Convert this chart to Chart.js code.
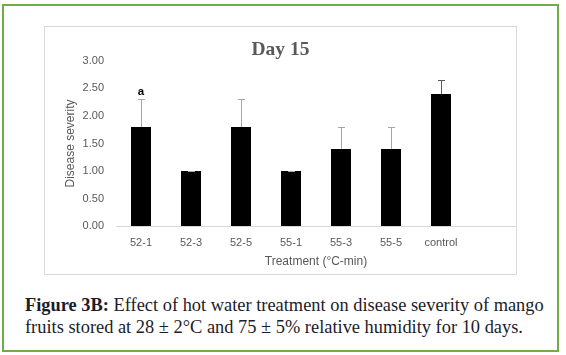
<!DOCTYPE html>
<html><head><meta charset="utf-8">
<script src="https://cdn.jsdelivr.net/npm/chart.js@4"></script>
<style>
html,body{margin:0;padding:0;background:#fff;width:566px;height:355px;overflow:hidden}
#frame{position:absolute;left:2px;top:4px;width:557px;height:348px;border:2px solid #70ad47;box-sizing:border-box}
#box{position:absolute;left:44px;top:26px;width:473px;height:249px;border:1px solid #d9d9d9;box-sizing:border-box}
#wrap{position:absolute;left:45px;top:27px;width:471px;height:247px}
#cap{position:absolute;left:25px;top:295px;font-family:"Liberation Serif",serif;font-size:17.5px;line-height:21.7px;color:#1c1c2a;white-space:nowrap}
#cap b{font-weight:bold}
</style></head>
<body>
<div id="frame"></div>
<div id="box"></div>
<div id="wrap"><canvas id="c" width="471" height="247"></canvas></div>
<div id="cap"><span id="l1"><b>Figure 3B:</b> Effect of hot water treatment on disease severity of mango</span><br><span>fruits stored at 28 ± 2°C and 75 ± 5% relative humidity for 10 days.</span></div>
<script>
const categories = ['52-1','52-3','52-5','55-1','55-3','55-5','control'];
const severity   = [1.8, 1.0, 1.8, 1.0, 1.4, 1.4, 2.4];
const errorUp    = [0.5, 0.0, 0.5, 0.0, 0.4, 0.4, 0.25];
const letters    = ['a','','','','','',''];
const yTicks     = [0, 0.5, 1, 1.5, 2, 2.5, 3];
const chartTitle = 'Day 15';
const yTitle = 'Disease severity';
const xTitle = 'Treatment (°C-min)';

// fit caption width
(function(){
  const cap = document.getElementById('cap');
  const l1 = document.getElementById('l1');
  const w = l1.getBoundingClientRect().width;
  const fs = 17.5 * 519 / w;
  cap.style.fontSize = fs + 'px';
})();

const errColors = ['#a6a6a6','#a6a6a6','#a6a6a6','#a6a6a6','#a6a6a6','#a6a6a6','#595959'];

const errorBars = {
  id: 'errorBars',
  afterDatasetsDraw(chart) {
    const ctx = chart.ctx;
    const meta = chart.getDatasetMeta(0);
    const ys = chart.scales.y;
    ctx.save();
    meta.data.forEach((bar, i) => {
      if (i >= severity.length) return;
      const x = Math.round(bar.x) + 0.5;
      const y0 = ys.getPixelForValue(severity[i]);
      const y1 = Math.round(ys.getPixelForValue(severity[i] + errorUp[i])) + 0.5;
      ctx.strokeStyle = errColors[i];
      ctx.lineWidth = 1;
      ctx.beginPath();
      ctx.moveTo(x, y0);
      ctx.lineTo(x, y1);
      ctx.moveTo(x - 3.5, y1);
      ctx.lineTo(x + 3.5, y1);
      ctx.stroke();
      if (letters[i]) {
        ctx.fillStyle = '#000';
        ctx.font = 'bold 11.5px "Liberation Sans"';
        ctx.textAlign = 'center';
        ctx.textBaseline = 'middle';
        ctx.fillText(letters[i], bar.x, y1 - 8);
      }
    });
    ctx.restore();
  }
};

new Chart(document.getElementById('c'), {
  type: 'bar',
  data: {
    labels: [...categories, ''],
    datasets: [{
      data: severity,
      backgroundColor: '#000000',
      borderWidth: 0,
      barPercentage: 0.4,
      categoryPercentage: 1.0
    }]
  },
  options: {
    responsive: false,
    animation: false,
    layout: { padding: 0 },
    plugins: {
      legend: { display: false },
      tooltip: { enabled: false },
      title: {
        display: true,
        text: chartTitle,
        color: '#595959',
        font: { family: '"Liberation Serif"', size: 19.5, weight: 'bold', lineHeight: 1.1 },
        padding: { top: 12.5, bottom: 0 }
      }
    },
    scales: {
      x: {
        afterFit(s) { s.height = 48; },
        grid: { display: false, drawTicks: false },
        border: { display: true, color: '#d9d9d9', width: 1 },
        ticks: { color: '#595959', font: { family: '"Liberation Sans"', size: 11 }, padding: 10, maxRotation: 0, autoSkip: false },
        title: { display: true, text: xTitle, color: '#595959', font: { family: '"Liberation Sans"', size: 12 }, padding: { top: 0, bottom: 5 } }
      },
      y: {
        min: 0, max: 3,
        afterFit(s) { s.width = 71; },
        afterBuildTicks(s) { s.ticks = yTicks.map(v => ({ value: v })); },
        grid: { display: false, drawTicks: false },
        border: { display: false },
        ticks: { color: '#595959', font: { family: '"Liberation Sans"', size: 11 }, padding: 12, callback: v => Number(v).toFixed(2) },
        title: { display: true, text: yTitle, color: '#595959', font: { family: '"Liberation Sans"', size: 12 }, padding: { top: 18, bottom: 0 } }
      }
    }
  },
  plugins: [errorBars]
});
</script>
</body></html>
